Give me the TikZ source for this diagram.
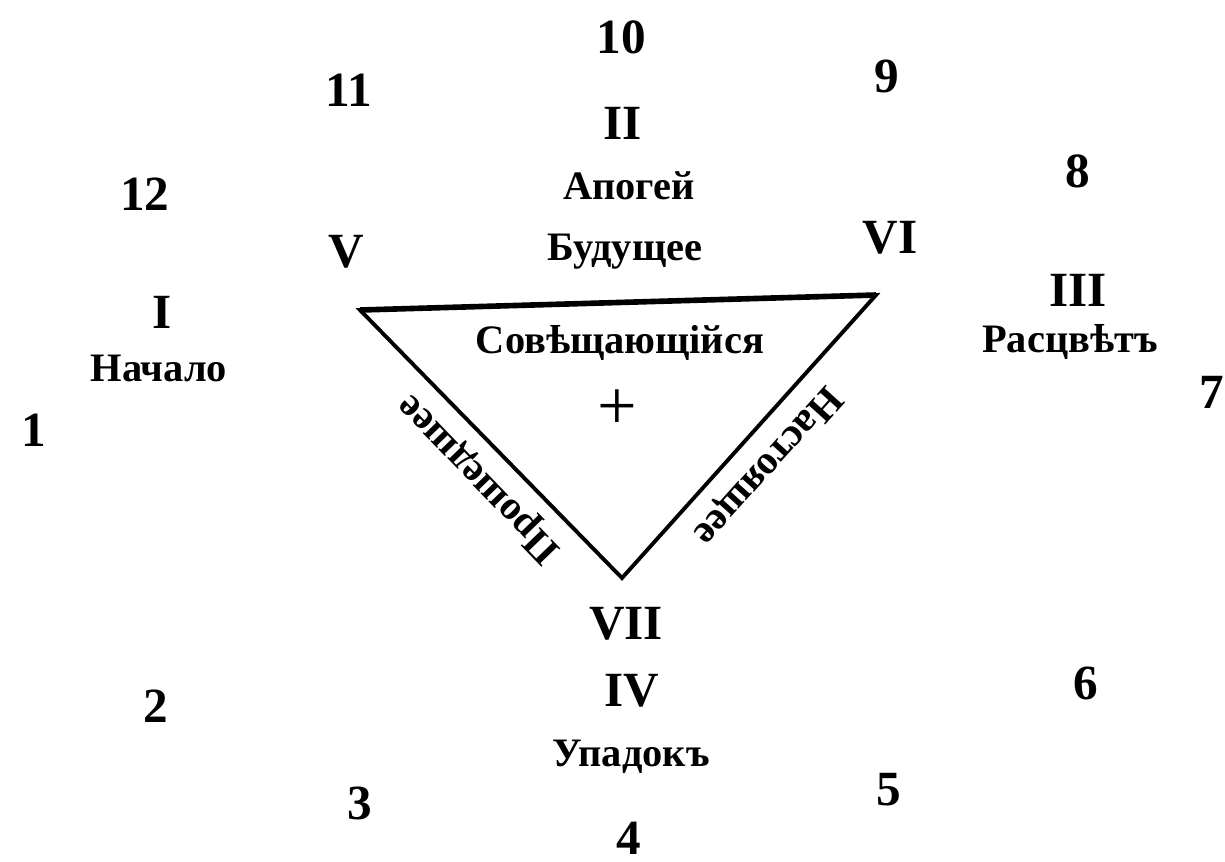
\documentclass[tikz,border=0pt]{standalone}
\usepackage{fontspec}
\setmainfont{Liberation Serif}

\begin{document}
\begin{tikzpicture}[x=0.1mm, y=-0.1mm,
    num/.style={font=\bfseries\fontsize{14}{16}\selectfont, inner sep=1pt},
    roman/.style={font=\bfseries\fontsize{14}{16}\selectfont, inner sep=1pt},
    word/.style={font=\bfseries\fontsize{11.5}{13}\selectfont, inner sep=1pt},
    side/.style={font=\bfseries\fontsize{11.5}{13}\selectfont, inner sep=1pt},
    tri/.style={draw, line width=1.1pt, line join=miter}]
\useasboundingbox (0,0) rectangle (1225,861);
% hour numbers round the circle
\node[num] (h10) at (621,37) {10};
\node[num] (h11) at (349,90) {11};
\node[num] (h9) at (887,76) {9};
\node[num] (h8) at (1078,171) {8};
\node[num] (h12) at (145,194) {12};
\node[num] (h1) at (34,430) {1};
\node[num] (h7) at (1212,392) {7};
\node[num] (h2) at (156,706) {2};
\node[num] (h6) at (1086,683) {6};
\node[num] (h3) at (360,803) {3};
\node[num] (h5) at (889,790) {5};
\node[num, inner sep=0pt] (h4) at (629,838) {4};
% phases
\node[roman] (p2) at (623,123) {II};
\node[word] (apogee) at (629,186) {Апогей};
\node[word] (future) at (625,252) {Будущее};
\node[roman] (p5) at (346,252) {V};
\node[roman] (p6) at (890,238) {VI};
\node[roman] (p3) at (1078,290) {III};
\node[word] (bloom) at (1070,342) {Расцвѣтъ};
\node[roman] (p1) at (162,312) {I};
\node[word] (begin) at (159,368) {Начало};
\node[roman] (p7) at (626,624) {VII};
\node[roman] (p4) at (632,691) {IV};
\node[word] (decline) at (631,757) {Упадокъ};
% triangle
\coordinate (tl) at (360,310);
\coordinate (tr) at (876,295);
\coordinate (bt) at (622,578);
\draw[tri] (tl) -- (tr) -- (bt) -- cycle;
\draw[line width=1.6pt] (tl) -- (tr);
\node[side, rotate=134] (past) at (480,478) {Прошедшее};
\node[side, rotate=228] (present) at (767,465) {Настоящее};
\node[word] (now) at (620,343) {Совѣщающійся};
\node[font=\fontsize{20}{20}\selectfont, inner sep=0pt] (centre) at (617,410) {+};
\end{tikzpicture}
\end{document}
